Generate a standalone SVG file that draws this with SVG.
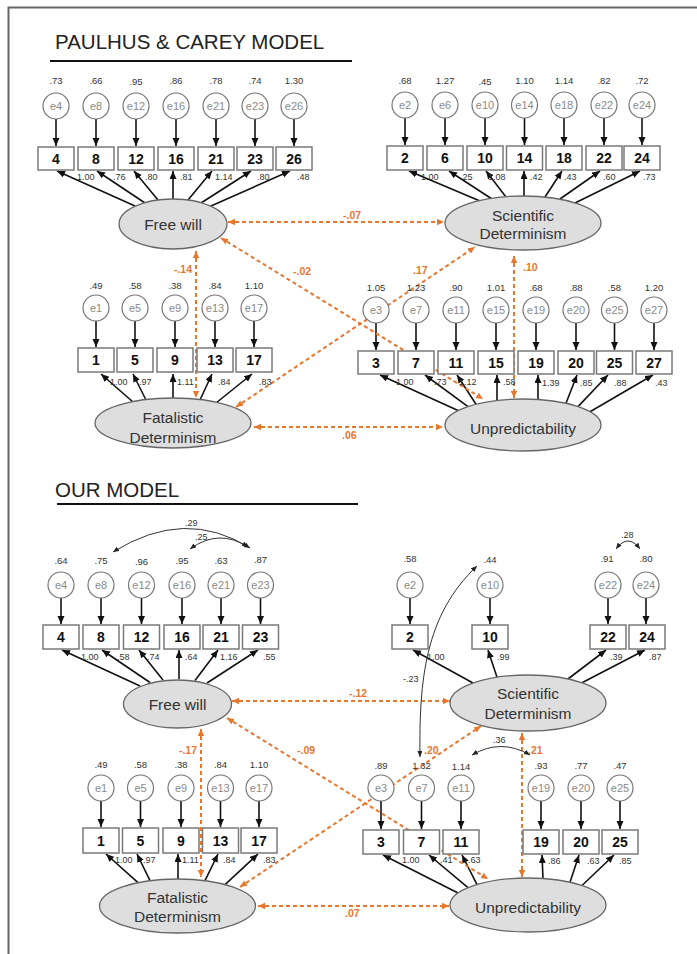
<svg xmlns="http://www.w3.org/2000/svg" width="697" height="954" viewBox="0 0 697 954">
<defs>
<marker id="ah" markerUnits="userSpaceOnUse" markerWidth="9" markerHeight="8" refX="8" refY="3.5" orient="auto-start-reverse"><path d="M0,0 L8,3.5 L0,7 z" fill="#111"/></marker>
<marker id="oh" markerUnits="userSpaceOnUse" markerWidth="9" markerHeight="8" refX="7" refY="3.2" orient="auto-start-reverse"><path d="M0,0 L7,3.2 L0,6.4 z" fill="#e8772e"/></marker>
<marker id="sh" markerUnits="userSpaceOnUse" markerWidth="7" markerHeight="6" refX="6" refY="2.5" orient="auto-start-reverse"><path d="M0,0 L6,2.5 L0,5 z" fill="#222"/></marker>
</defs>
<style>
text{font-family:"Liberation Sans",Arial,sans-serif}
.box{fill:#fff;stroke:#7a7a7a;stroke-width:1.5}
.bt{font-size:14px;font-weight:bold;fill:#111;text-anchor:middle}
.err{fill:#fff;stroke:#777;stroke-width:1.2}
.et{font-size:11px;fill:#8a8a8a;text-anchor:middle}
.val{font-size:9.5px;fill:#333;text-anchor:middle}
.ld{font-size:9px;fill:#333}
.lat{fill:#dedede;stroke:#666;stroke-width:1.3}
.lt{font-size:15.5px;fill:#333;text-anchor:middle}
.arr line{stroke:#111;stroke-width:1.6;marker-end:url(#ah)}
.cor{stroke:#e8772e;stroke-width:2;stroke-dasharray:4 3;fill:none;marker-start:url(#oh);marker-end:url(#oh)}
.ol{font-size:10.5px;font-weight:bold;fill:#e8772e}
.cov{stroke:#333;stroke-width:1;fill:none;marker-start:url(#sh);marker-end:url(#sh)}
.ttl{font-size:20.5px;fill:#222}
</style>
<rect width="697" height="954" fill="#fff"/>
<path d="M8.5,954 V7.5 H697" fill="none" stroke="#666" stroke-width="2"/>
<text class="ttl" x="55" y="49">PAULHUS &amp; CAREY MODEL</text>
<line x1="50" y1="61" x2="352" y2="61" stroke="#111" stroke-width="2"/>
<text class="ttl" x="55" y="497">OUR MODEL</text>
<line x1="57" y1="504" x2="358" y2="504" stroke="#111" stroke-width="2"/>

<g id="connectors">
<g class="arr">
<!-- top: error arrows -->
<line x1="56" y1="119" x2="56" y2="146"/><line x1="96" y1="119" x2="96" y2="146"/><line x1="136" y1="119" x2="136" y2="146"/><line x1="176" y1="119" x2="176" y2="146"/><line x1="216" y1="119" x2="216" y2="146"/><line x1="255" y1="119" x2="255" y2="146"/><line x1="294" y1="119" x2="294" y2="146"/>
<line x1="405" y1="118" x2="405" y2="145"/><line x1="445" y1="118" x2="445" y2="145"/><line x1="485" y1="118" x2="485" y2="145"/><line x1="524.5" y1="118" x2="524.5" y2="145"/><line x1="564" y1="118" x2="564" y2="145"/><line x1="604" y1="118" x2="604" y2="145"/><line x1="642" y1="118" x2="642" y2="145"/>
<line x1="96" y1="321" x2="96" y2="347"/><line x1="135" y1="321" x2="135" y2="347"/><line x1="175" y1="321" x2="175" y2="347"/><line x1="215" y1="321" x2="215" y2="347"/><line x1="254" y1="321" x2="254" y2="347"/>
<line x1="376" y1="323" x2="376" y2="350"/><line x1="416" y1="323" x2="416" y2="350"/><line x1="456" y1="323" x2="456" y2="350"/><line x1="496" y1="323" x2="496" y2="350"/><line x1="536" y1="323" x2="536" y2="350"/><line x1="576" y1="323" x2="576" y2="350"/><line x1="614.5" y1="323" x2="614.5" y2="350"/><line x1="654" y1="323" x2="654" y2="350"/>
<!-- top: loadings -->
<line x1="135" y1="206" x2="57" y2="171"/><line x1="145" y1="203" x2="97" y2="171"/><line x1="158" y1="200" x2="134" y2="171"/><line x1="173" y1="199" x2="173" y2="171"/><line x1="188" y1="200" x2="212" y2="171"/><line x1="201" y1="203" x2="251" y2="171"/><line x1="211" y1="206" x2="290" y2="171"/>
<line x1="480" y1="201" x2="409" y2="171"/><line x1="492" y1="199" x2="449" y2="171"/><line x1="506" y1="197" x2="486" y2="171"/><line x1="524" y1="196" x2="524" y2="171"/><line x1="545" y1="197" x2="562" y2="171"/><line x1="560" y1="199" x2="600" y2="171"/><line x1="575" y1="203" x2="640" y2="171"/>
<line x1="133" y1="402" x2="101" y2="374"/><line x1="146" y1="400" x2="133" y2="374"/><line x1="173" y1="398" x2="173" y2="374"/><line x1="200" y1="400" x2="212" y2="374"/><line x1="216" y1="403" x2="252" y2="374"/>
<line x1="458" y1="410.6" x2="380" y2="375"/><line x1="468" y1="406.6" x2="425" y2="375"/><line x1="476" y1="404.3" x2="457" y2="375"/><line x1="497" y1="400.5" x2="497" y2="375"/><line x1="538" y1="399.5" x2="538" y2="375"/><line x1="566" y1="403.3" x2="577" y2="375"/><line x1="578" y1="406.6" x2="608" y2="375"/><line x1="590" y1="411.7" x2="653" y2="375"/>
<!-- bottom: error arrows -->
<line x1="61" y1="598" x2="61" y2="624"/><line x1="101" y1="598" x2="101" y2="624"/><line x1="141.5" y1="598" x2="141.5" y2="624"/><line x1="182" y1="598" x2="182" y2="624"/><line x1="221" y1="598" x2="221" y2="624"/><line x1="260.5" y1="598" x2="260.5" y2="624"/>
<line x1="101" y1="801" x2="101" y2="827"/><line x1="140.5" y1="801" x2="140.5" y2="827"/><line x1="181" y1="801" x2="181" y2="827"/><line x1="220.5" y1="801" x2="220.5" y2="827"/><line x1="259" y1="801" x2="259" y2="827"/>
<line x1="410" y1="598" x2="410" y2="624"/><line x1="490" y1="598" x2="490" y2="624"/><line x1="608" y1="598" x2="608" y2="624"/><line x1="646" y1="598" x2="646" y2="624"/>
<line x1="381" y1="801" x2="381" y2="829"/><line x1="421.5" y1="801" x2="421.5" y2="829"/><line x1="461" y1="801" x2="461" y2="829"/><line x1="541" y1="801" x2="541" y2="829"/><line x1="581" y1="801" x2="581" y2="829"/><line x1="620" y1="801" x2="620" y2="829"/>
<!-- bottom: loadings -->
<line x1="140" y1="686" x2="62" y2="650"/><line x1="150" y1="682.5" x2="102" y2="650"/><line x1="163" y1="680" x2="139" y2="650"/><line x1="179" y1="679" x2="179" y2="650"/><line x1="195" y1="680.4" x2="218" y2="650"/><line x1="207" y1="683" x2="258" y2="650"/>
<line x1="138" y1="882.7" x2="106" y2="854"/><line x1="150" y1="880.7" x2="137" y2="854"/><line x1="178" y1="879" x2="178" y2="854"/><line x1="205" y1="880.7" x2="218" y2="854"/><line x1="225" y1="884.6" x2="258" y2="854"/>
<line x1="473" y1="683" x2="413" y2="650"/><line x1="497" y1="677.3" x2="488" y2="650"/><line x1="568" y1="679" x2="606" y2="650"/><line x1="582" y1="682.8" x2="645" y2="650"/>
<line x1="458" y1="893" x2="383" y2="855"/><line x1="468" y1="887.7" x2="429" y2="855"/><line x1="477" y1="884.6" x2="462" y2="855"/><line x1="543" y1="878.5" x2="542" y2="855"/><line x1="570" y1="882.2" x2="579" y2="855"/><line x1="582" y1="885.5" x2="614" y2="855"/>
</g>
<!-- top: latent correlations -->
<line class="cor" x1="228" y1="222" x2="444" y2="222"/>
<line class="cor" x1="196" y1="251" x2="196" y2="398"/>
<line class="cor" x1="221" y1="238" x2="483" y2="399"/>
<line class="cor" x1="236" y1="407" x2="475" y2="247"/>
<line class="cor" x1="514" y1="256" x2="514" y2="398"/>
<line class="cor" x1="254" y1="427" x2="443" y2="427"/>
<!-- bottom: latent correlations -->
<line class="cor" x1="232" y1="701" x2="450" y2="701"/>
<line class="cor" x1="201" y1="729" x2="201" y2="877"/>
<line class="cor" x1="227" y1="718" x2="488" y2="879"/>
<line class="cor" x1="240" y1="887" x2="481" y2="726"/>
<line class="cor" x1="522" y1="733" x2="522" y2="877"/>
<line class="cor" x1="258" y1="906" x2="449" y2="906"/>
<!-- bottom: error covariances -->
<path class="cov" d="M113,552 Q185,507 250,548"/>
<path class="cov" d="M190,549 Q219,528 248,547"/>
<path class="cov" d="M616,549 Q628,533 640,549"/>
<path class="cov" d="M472,755 Q501,738 530,755"/>
<path class="cov" d="M477,566 C425,615 419,680 420,757"/>
<!-- labels -->
<g class="ol">
<text x="343" y="219">-.07</text>
<text x="192" y="273" text-anchor="end">-.14</text>
<text x="293" y="275">-.02</text>
<text x="413" y="274">.17</text>
<text x="523" y="271">.10</text>
<text x="342" y="439">.06</text>
<text x="349" y="697">-.12</text>
<text x="197" y="754" text-anchor="end">-.17</text>
<text x="297" y="754">-.09</text>
<text x="424" y="754">.20</text>
<text x="528" y="754">.21</text>
<text x="345" y="917">.07</text>
</g>
<g class="ld">
<text x="185" y="526">.29</text>
<text x="195" y="540">.25</text>
<text x="621" y="538">.28</text>
<text x="493" y="743">.36</text>
<text x="403" y="682">-.23</text>
</g>
</g>

<!-- ===== TOP MODEL ===== -->
<g id="top-free-will">
<ellipse class="lat" cx="173" cy="224" rx="54" ry="25"/>
<text class="lt" x="173" y="229.5">Free will</text>
</g>
<g id="top-scientific-determinism">
<ellipse class="lat" cx="523" cy="223" rx="78" ry="27"/>
<text class="lt" x="523" y="220.5">Scientific</text>
<text class="lt" x="523" y="238.5">Determinism</text>
</g>
<g id="top-fatalistic-determinism">
<ellipse class="lat" cx="173" cy="423" rx="78" ry="25"/>
<text class="lt" x="173" y="422.5">Fatalistic</text>
<text class="lt" x="173" y="442.5">Determinism</text>
</g>
<g id="top-unpredictability">
<ellipse class="lat" cx="523" cy="425" rx="78" ry="26"/>
<text class="lt" x="523" y="433.5">Unpredictability</text>
</g>

<g id="top-fw-items">
<g class="box"><rect x="38" y="147" width="36" height="23"/><rect x="78" y="147" width="36" height="23"/><rect x="118" y="147" width="36" height="23"/><rect x="158" y="147" width="36" height="23"/><rect x="198" y="147" width="36" height="23"/><rect x="237" y="147" width="36" height="23"/><rect x="276" y="147" width="36" height="23"/></g>
<g class="bt"><text x="56" y="163.5">4</text><text x="96" y="163.5">8</text><text x="136" y="163.5">12</text><text x="176" y="163.5">16</text><text x="216" y="163.5">21</text><text x="255" y="163.5">23</text><text x="294" y="163.5">26</text></g>
<g class="err"><circle cx="56" cy="106" r="13"/><circle cx="96" cy="106" r="13"/><circle cx="136" cy="106" r="13"/><circle cx="176" cy="106" r="13"/><circle cx="216" cy="106" r="13"/><circle cx="255" cy="106" r="13"/><circle cx="294" cy="106" r="13"/></g>
<g class="et"><text x="56" y="110">e4</text><text x="96" y="110">e8</text><text x="136" y="110">e12</text><text x="176" y="110">e16</text><text x="216" y="110">e21</text><text x="255" y="110">e23</text><text x="294" y="110">e26</text></g>
<g class="val"><text x="56" y="84">.73</text><text x="96" y="84">.66</text><text x="136" y="85">.95</text><text x="176" y="84">.86</text><text x="216" y="84">.78</text><text x="255" y="84">.74</text><text x="294" y="84">1.30</text></g>
<g class="ld"><text x="77" y="180">1.00</text><text x="113" y="180">.76</text><text x="145" y="180">.80</text><text x="180" y="180">.81</text><text x="215" y="180">1.14</text><text x="257" y="180">.80</text><text x="297" y="180">.48</text></g>
</g>

<g id="top-sd-items">
<g class="box"><rect x="387" y="146" width="36" height="24"/><rect x="427" y="146" width="36" height="24"/><rect x="467" y="146" width="36" height="24"/><rect x="506.5" y="146" width="36" height="24"/><rect x="546" y="146" width="36" height="24"/><rect x="586" y="146" width="36" height="24"/><rect x="624" y="146" width="36" height="24"/></g>
<g class="bt"><text x="405" y="163">2</text><text x="445" y="163">6</text><text x="485" y="163">10</text><text x="524.5" y="163">14</text><text x="564" y="163">18</text><text x="604" y="163">22</text><text x="642" y="163">24</text></g>
<g class="err"><circle cx="405" cy="105" r="13"/><circle cx="445" cy="105" r="13"/><circle cx="485" cy="105" r="13"/><circle cx="524.5" cy="105" r="13"/><circle cx="564" cy="105" r="13"/><circle cx="604" cy="105" r="13"/><circle cx="642" cy="105" r="13"/></g>
<g class="et"><text x="405" y="109">e2</text><text x="445" y="109">e6</text><text x="485" y="109">e10</text><text x="524.5" y="109">e14</text><text x="564" y="109">e18</text><text x="604" y="109">e22</text><text x="642" y="109">e24</text></g>
<g class="val"><text x="405" y="83.5">.68</text><text x="445" y="83.5">1.27</text><text x="485" y="84.5">.45</text><text x="524.5" y="83.5">1.10</text><text x="564" y="83.5">1.14</text><text x="604" y="83.5">.82</text><text x="642" y="83.5">.72</text></g>
<g class="ld"><text x="421" y="180">1.00</text><text x="460" y="180">.25</text><text x="488" y="180">1.08</text><text x="530" y="180">.42</text><text x="564" y="180">.43</text><text x="603" y="180">.60</text><text x="643" y="180">.73</text></g>
</g>

<g id="top-fd-items">
<g class="box"><rect x="78" y="348" width="36" height="24"/><rect x="117" y="348" width="36" height="24"/><rect x="157" y="348" width="36" height="24"/><rect x="197" y="348" width="36" height="24"/><rect x="236" y="348" width="36" height="24"/></g>
<g class="bt"><text x="96" y="365">1</text><text x="135" y="365">5</text><text x="175" y="365">9</text><text x="215" y="365">13</text><text x="254" y="365">17</text></g>
<g class="err"><circle cx="96" cy="308" r="13"/><circle cx="135" cy="308" r="13"/><circle cx="175" cy="308" r="13"/><circle cx="215" cy="308" r="13"/><circle cx="254" cy="308" r="13"/></g>
<g class="et"><text x="96" y="312">e1</text><text x="135" y="312">e5</text><text x="175" y="312">e9</text><text x="215" y="312">e13</text><text x="254" y="312">e17</text></g>
<g class="val"><text x="96" y="288.5">.49</text><text x="135" y="288.5">.58</text><text x="175" y="289">.38</text><text x="215" y="288.5">.84</text><text x="254" y="288.5">1.10</text></g>
<g class="ld"><text x="110" y="385">1.00</text><text x="139" y="385">.97</text><text x="177" y="385">1.11</text><text x="218" y="385">.84</text><text x="259" y="385">.83</text></g>
</g>

<g id="top-up-items">
<g class="box"><rect x="358" y="351" width="36" height="23"/><rect x="398" y="351" width="36" height="23"/><rect x="438" y="351" width="36" height="23"/><rect x="478" y="351" width="36" height="23"/><rect x="518" y="351" width="36" height="23"/><rect x="558" y="351" width="36" height="23"/><rect x="596.5" y="351" width="36" height="23"/><rect x="636" y="351" width="36" height="23"/></g>
<g class="bt"><text x="376" y="367.5">3</text><text x="416" y="367.5">7</text><text x="456" y="367.5">11</text><text x="496" y="367.5">15</text><text x="536" y="367.5">19</text><text x="576" y="367.5">20</text><text x="614.5" y="367.5">25</text><text x="654" y="367.5">27</text></g>
<g class="err"><circle cx="376" cy="310" r="13"/><circle cx="416" cy="310" r="13"/><circle cx="456" cy="310" r="13"/><circle cx="496" cy="310" r="13"/><circle cx="536" cy="310" r="13"/><circle cx="576" cy="310" r="13"/><circle cx="614.5" cy="310" r="13"/><circle cx="654" cy="310" r="13"/></g>
<g class="et"><text x="376" y="314">e3</text><text x="416" y="314">e7</text><text x="456" y="314">e11</text><text x="496" y="314">e15</text><text x="536" y="314">e19</text><text x="576" y="314">e20</text><text x="614.5" y="314">e25</text><text x="654" y="314">e27</text></g>
<g class="val"><text x="376" y="290.5">1.05</text><text x="416" y="290.5">1.23</text><text x="456" y="290.5">.90</text><text x="496" y="290.5">1.01</text><text x="536" y="290.5">.68</text><text x="576" y="290.5">.88</text><text x="614.5" y="290.5">.58</text><text x="654" y="290.5">1.20</text></g>
<g class="ld"><text x="396" y="385">1.00</text><text x="434" y="385">.73</text><text x="459" y="385">1.12</text><text x="503" y="385">.58</text><text x="542" y="386">1.39</text><text x="580" y="386">.85</text><text x="614" y="386">.88</text><text x="655" y="386">.43</text></g>
</g>

<!-- ===== BOTTOM MODEL ===== -->
<g id="our-free-will">
<ellipse class="lat" cx="177.5" cy="704" rx="54" ry="24"/>
<text class="lt" x="177.5" y="709.5">Free will</text>
</g>
<g id="our-scientific-determinism">
<ellipse class="lat" cx="528" cy="703" rx="78" ry="28"/>
<text class="lt" x="528" y="698.5">Scientific</text>
<text class="lt" x="528" y="718.5">Determinism</text>
</g>
<g id="our-fatalistic-determinism">
<ellipse class="lat" cx="177.5" cy="906" rx="78" ry="27"/>
<text class="lt" x="177.5" y="902.5">Fatalistic</text>
<text class="lt" x="177.5" y="921.5">Determinism</text>
</g>
<g id="our-unpredictability">
<ellipse class="lat" cx="528" cy="905" rx="78" ry="27"/>
<text class="lt" x="528" y="912.5">Unpredictability</text>
</g>

<g id="our-fw-items">
<g class="box"><rect x="43" y="625" width="36" height="24"/><rect x="83" y="625" width="36" height="24"/><rect x="123.5" y="625" width="36" height="24"/><rect x="164" y="625" width="36" height="24"/><rect x="203" y="625" width="36" height="24"/><rect x="242.5" y="625" width="36" height="24"/></g>
<g class="bt"><text x="61" y="642">4</text><text x="101" y="642">8</text><text x="141.5" y="642">12</text><text x="182" y="642">16</text><text x="221" y="642">21</text><text x="260.5" y="642">23</text></g>
<g class="err"><circle cx="61" cy="585" r="13"/><circle cx="101" cy="585" r="13"/><circle cx="141.5" cy="585" r="13"/><circle cx="182" cy="585" r="13"/><circle cx="221" cy="585" r="13"/><circle cx="260.5" cy="585" r="13"/></g>
<g class="et"><text x="61" y="589">e4</text><text x="101" y="589">e8</text><text x="141.5" y="589">e12</text><text x="182" y="589">e16</text><text x="221" y="589">e21</text><text x="260.5" y="589">e23</text></g>
<g class="val"><text x="61" y="563.5">.64</text><text x="101" y="563.5">.75</text><text x="141.5" y="564.5">.96</text><text x="182" y="563.5">.95</text><text x="221" y="563.5">.63</text><text x="260.5" y="562.5">.87</text></g>
<g class="ld"><text x="81" y="660">1.00</text><text x="117" y="660">.58</text><text x="147" y="660">.74</text><text x="185" y="660">.64</text><text x="220" y="660">1.16</text><text x="263" y="660">.55</text></g>
</g>

<g id="our-sd-items">
<g class="box"><rect x="392" y="625" width="36" height="24"/><rect x="472" y="625" width="36" height="24"/><rect x="590" y="625" width="36" height="24"/><rect x="629" y="625" width="36" height="24"/></g>
<g class="bt"><text x="410" y="642">2</text><text x="490" y="642">10</text><text x="608" y="642">22</text><text x="647" y="642">24</text></g>
<g class="err"><circle cx="410" cy="585" r="13"/><circle cx="490" cy="585" r="13"/><circle cx="608" cy="585" r="13"/><circle cx="646" cy="585" r="13"/></g>
<g class="et"><text x="410" y="589">e2</text><text x="490" y="589">e10</text><text x="608" y="589">e22</text><text x="646" y="589">e24</text></g>
<g class="val"><text x="410" y="561.5">.58</text><text x="490" y="562.5">.44</text><text x="607" y="561.5">.91</text><text x="646" y="562">.80</text></g>
<g class="ld"><text x="427" y="660">1.00</text><text x="497" y="660">.99</text><text x="610" y="660">.39</text><text x="649" y="660">.87</text></g>
</g>

<g id="our-fd-items">
<g class="box"><rect x="83" y="828" width="36" height="25"/><rect x="122.5" y="828" width="36" height="25"/><rect x="163" y="828" width="36" height="25"/><rect x="202.5" y="828" width="36" height="25"/><rect x="241" y="828" width="36" height="25"/></g>
<g class="bt"><text x="101" y="845.5">1</text><text x="140.5" y="845.5">5</text><text x="181" y="845.5">9</text><text x="220.5" y="845.5">13</text><text x="259" y="845.5">17</text></g>
<g class="err"><circle cx="101" cy="788" r="13"/><circle cx="140.5" cy="788" r="13"/><circle cx="181" cy="788" r="13"/><circle cx="220.5" cy="788" r="13"/><circle cx="259" cy="788" r="13"/></g>
<g class="et"><text x="101" y="792">e1</text><text x="140.5" y="792">e5</text><text x="181" y="792">e9</text><text x="220.5" y="792">e13</text><text x="259" y="792">e17</text></g>
<g class="val"><text x="101" y="767.5">.49</text><text x="140.5" y="767.5">.58</text><text x="181" y="768">.38</text><text x="220.5" y="767.5">.84</text><text x="259" y="767.5">1.10</text></g>
<g class="ld"><text x="115" y="863">1.00</text><text x="143" y="863">.97</text><text x="182" y="863">1.11</text><text x="223" y="863">.84</text><text x="263" y="863">.83</text></g>
</g>

<g id="our-up-items">
<g class="box"><rect x="363" y="830" width="36" height="24"/><rect x="403.5" y="830" width="36" height="24"/><rect x="443" y="830" width="36" height="24"/><rect x="523" y="830" width="36" height="24"/><rect x="563" y="830" width="36" height="24"/><rect x="602" y="830" width="36" height="24"/></g>
<g class="bt"><text x="381" y="847">3</text><text x="421.5" y="847">7</text><text x="461" y="847">11</text><text x="541" y="847">19</text><text x="581" y="847">20</text><text x="620" y="847">25</text></g>
<g class="err"><circle cx="381" cy="788" r="13"/><circle cx="421.5" cy="788" r="13"/><circle cx="461" cy="788" r="13"/><circle cx="541" cy="788" r="13"/><circle cx="581" cy="788" r="13"/><circle cx="620" cy="788" r="13"/></g>
<g class="et"><text x="381" y="792">e3</text><text x="421.5" y="792">e7</text><text x="461" y="792">e11</text><text x="541" y="792">e19</text><text x="581" y="792">e20</text><text x="620" y="792">e25</text></g>
<g class="val"><text x="381" y="768.5">.89</text><text x="421.5" y="768.5">1.32</text><text x="461" y="770">1.14</text><text x="541" y="768.5">.93</text><text x="581" y="768.5">.77</text><text x="620" y="768.5">.47</text></g>
<g class="ld"><text x="402" y="863">1.00</text><text x="440" y="863">.41</text><text x="468" y="863">.63</text><text x="548" y="864">.86</text><text x="587" y="864">.63</text><text x="619" y="864">.85</text></g>
</g>
</svg>
